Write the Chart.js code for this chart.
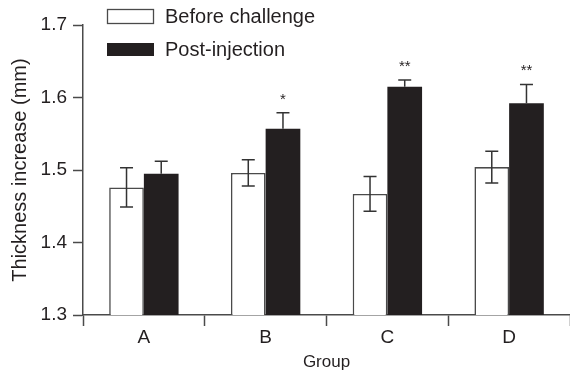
<!DOCTYPE html>
<html>
<head>
<meta charset="utf-8">
<script src="https://cdn.jsdelivr.net/npm/chart.js@4/dist/chart.umd.min.js"></script>
<style>
  html, body { margin: 0; padding: 0; background: #fff; }
  #wrap { width: 570px; height: 371px; }
</style>
</head>
<body>
<div id="wrap"><canvas id="chart"></canvas></div>
<script>
// data
const groups = ['A', 'B', 'C', 'D'];
const beforeVals = [1.476, 1.496, 1.467, 1.504];
const beforeErr = [0.027, 0.018, 0.024, 0.022];
const postVals = [1.495, 1.557, 1.615, 1.592];
const postErr = [0.017, 0.022, 0.009, 0.026];
const postSig = ['', '*', '**', '**'];
const yMin = 1.3, yMax = 1.7, yStep = 0.1;

const INK = '#231f20';
const LINE = '#4a4a4a';
const FONT = 'Liberation Sans, Arial, Helvetica, sans-serif';

// error bars + significance stars
const errorBars = {
  id: 'errorBars',
  afterDatasetsDraw(chart) {
    const { ctx, scales: { y } } = chart;
    const errs = [beforeErr, postErr];
    ctx.save();
    ctx.strokeStyle = '#333';
    ctx.lineWidth = 1.5;
    chart.data.datasets.forEach((ds, di) => {
      const meta = chart.getDatasetMeta(di);
      meta.data.forEach((bar, i) => {
        const v = ds.data[i], e = errs[di][i];
        const top = y.getPixelForValue(v + e);
        const bot = y.getPixelForValue(v - e);
        const mid = y.getPixelForValue(v);
        const x = bar.x;
        ctx.beginPath();
        // lower half would vanish in the dark bars anyway
        ctx.moveTo(x, top); ctx.lineTo(x, di === 0 ? bot : mid);
        ctx.moveTo(x - 6.5, top); ctx.lineTo(x + 6.5, top);
        if (di === 0) { ctx.moveTo(x - 6.5, bot); ctx.lineTo(x + 6.5, bot); }
        ctx.stroke();
        if (di === 1 && postSig[i]) {
          ctx.fillStyle = INK;
          ctx.font = '15px ' + FONT;
          ctx.textAlign = 'center';
          ctx.textBaseline = 'alphabetic';
          ctx.fillText(postSig[i], x, top - 9);
        }
      });
    });
    ctx.restore();
  }
};

// legend drawn in the top-left of the plot
const boxLegend = {
  id: 'boxLegend',
  afterDraw(chart) {
    const { ctx } = chart;
    ctx.save();
    ctx.font = '20px ' + FONT;
    ctx.fillStyle = INK;
    ctx.textBaseline = 'middle';
    ctx.textAlign = 'left';
    chart.data.datasets.forEach((ds, i) => {
      const yTop = i === 0 ? 9.5 : 43;
      if (i === 0) {
        ctx.strokeStyle = LINE;
        ctx.lineWidth = 1.3;
        ctx.strokeRect(107.5, yTop, 46, 14);
      } else {
        ctx.fillStyle = ds.backgroundColor;
        ctx.fillRect(107, yTop, 47, 13);
        ctx.fillStyle = INK;
      }
      ctx.fillText(ds.label, 165, yTop + 7.5);
    });
    ctx.restore();
  }
};

new Chart(document.getElementById('chart'), {
  type: 'bar',
  data: {
    labels: groups,
    datasets: [
      {
        label: 'Before challenge',
        data: beforeVals,
        backgroundColor: '#fff',
        borderColor: LINE,
        borderWidth: 1.6,
        categoryPercentage: 0.57,
        barPercentage: 1,
      },
      {
        label: 'Post-injection',
        data: postVals,
        backgroundColor: INK,
        borderWidth: 0,
        categoryPercentage: 0.57,
        barPercentage: 1,
      },
    ],
  },
  options: {
    responsive: true,
    maintainAspectRatio: false,
    animation: false,
    layout: { padding: { top: 25, left: 0, right: -3, bottom: 0 } },
    plugins: {
      legend: { display: false },
      tooltip: { enabled: false },
    },
    scales: {
      x: {
        grid: { display: true, offset: true, drawOnChartArea: false, tickLength: 11, tickColor: LINE, tickWidth: 1.5 },
        border: { color: LINE, width: 1.5 },
        ticks: { color: INK, padding: 0, font: { family: FONT, size: 19 } },
        title: { display: true, text: 'Group', color: INK, padding: { top: 0, bottom: 0.5 }, font: { family: FONT, size: 17, lineHeight: 1 } },
        afterFit: s => { s.height = 56; },
      },
      y: {
        min: yMin,
        max: yMax,
        grid: { drawOnChartArea: false, tickLength: 10, tickColor: LINE, tickWidth: 1.5 },
        border: { color: LINE, width: 1.5 },
        ticks: { stepSize: yStep, color: INK, padding: 6, font: { family: FONT, size: 19 }, callback: v => v.toFixed(1) },
        title: { display: true, text: 'Thickness increase (mm)', color: INK, padding: { top: 10.5, bottom: 0 }, font: { family: FONT, size: 20, lineHeight: 1 } },
        afterFit: s => { s.width = 83; },
      },
    },
  },
  plugins: [errorBars, boxLegend],
});
</script>
</body>
</html>
